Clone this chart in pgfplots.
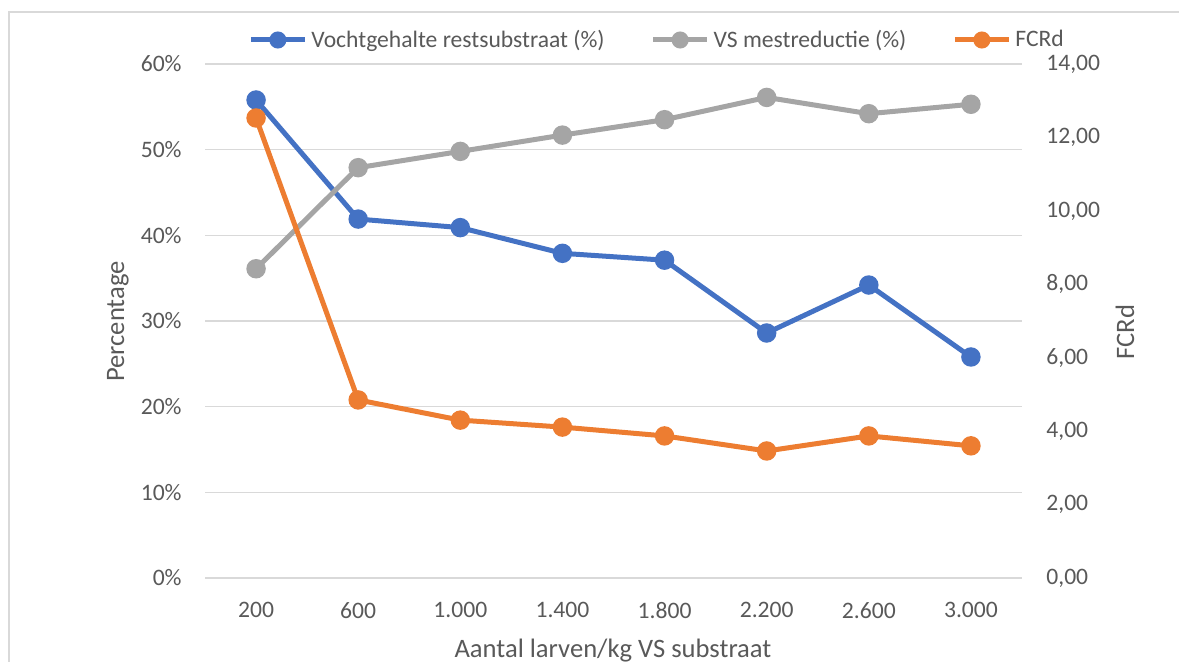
\documentclass[border=0pt]{standalone}
\usepackage{pgfplots}
\pgfplotsset{compat=1.18}
\usepackage{fontspec}
\setmainfont{Carlito}
\definecolor{cblue}{HTML}{4472C4}
\definecolor{cgray}{HTML}{A5A5A5}
\definecolor{corange}{HTML}{ED7D31}
\definecolor{gridc}{HTML}{D9D9D9}
\definecolor{tickc}{HTML}{595959}
\begin{document}
\begin{tikzpicture}[x=0.5pt,y=0.5pt]
\useasboundingbox (0,0) rectangle (1179,661);
\draw[gridc, line width=1pt] (9,-10) -- (9,649) -- (1190,649);
\pgfplotsset{
  common/.style={
    at={(102.5pt,41.5pt)}, anchor=south west, scale only axis,
    width=408.5pt, height=257pt, xmin=-0.5, xmax=7.5,
    axis line style={draw=none}, major tick length=0pt,
    tick label style={font=\fontsize{11.8}{14}\selectfont, text=tickc, inner sep=0pt},
    clip=false,
  },
  every axis plot/.append style={line width=2.5pt, mark=*, mark size=3.6pt},
}
\begin{axis}[common,
  ymin=0, ymax=60,
  xtick={0,...,7},
  xticklabels={200,600,1.000,1.400,1.800,2.200,2.600,3.000},
  ytick={0,10,...,60},
  yticklabels={0\%,10\%,20\%,30\%,40\%,50\%,60\%},
  ymajorgrids, grid style={gridc, line width=0.75pt},
  xticklabel shift=12pt, yticklabel shift=11.5pt,
]
\addplot[cblue, mark options={fill=cblue}] coordinates {
 (0,55.8) (1,41.9) (2,40.9) (3,37.9) (4,37.1) (5,28.6) (6,34.2) (7,25.8)};
\addplot[cgray, mark options={fill=cgray}] coordinates {
 (0,36.1) (1,47.9) (2,49.8) (3,51.7) (4,53.5) (5,56.1) (6,54.2) (7,55.3)};
\end{axis}
\begin{axis}[common,
  ymin=0, ymax=14,
  xtick=\empty,
  ytick={0,2,...,14},
  yticklabels={{0,00},{2,00},{4,00},{6,00},{8,00},{10,00},{12,00},{14,00}},
  yticklabel pos=right, yticklabel shift=12pt,
  legend columns=3,
  legend style={at={(0.0526,1.0467)}, anchor=west, draw=none, fill=none,
    inner sep=0pt, font=\fontsize{11.8}{14}\selectfont, text=tickc,
    nodes={inner sep=2pt},
    /tikz/every even column/.append style={column sep=21pt}},
  legend image code/.code={\draw[mark repeat=2,mark phase=2,mark size=3pt,#1] plot coordinates {(0pt,0pt) (13.5pt,0pt) (27pt,0pt)};},
]
\addlegendimage{cblue, mark options={fill=cblue}}
\addlegendentry{Vochtgehalte restsubstraat (\%)}
\addlegendimage{cgray, mark options={fill=cgray}}
\addlegendentry{VS mestreductie (\%)}
\addplot[corange, mark options={fill=corange}] coordinates {
 (0,12.53) (1,4.85) (2,4.30) (3,4.11) (4,3.87) (5,3.46) (6,3.87) (7,3.60)};
\addlegendentry{FCRd}
\end{axis}
\node[rotate=90, font=\fontsize{13.3}{16}\selectfont, text=tickc] at (118,339.5) {Percentage};
\node[rotate=90, font=\fontsize{13.3}{16}\selectfont, text=tickc] at (1125,329) {FCRd};
\node[anchor=base, font=\fontsize{13.3}{16}\selectfont, text=tickc] at (613,4) {Aantal larven/kg VS substraat};
\end{tikzpicture}
\end{document}
